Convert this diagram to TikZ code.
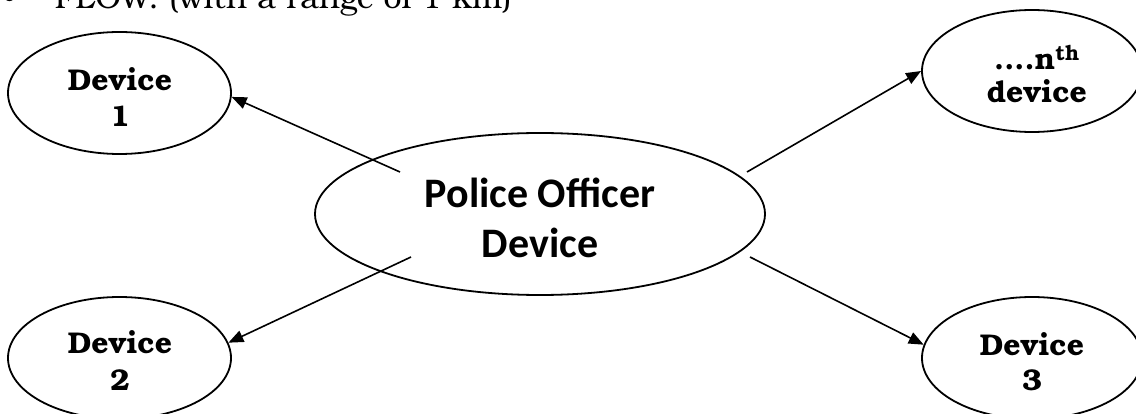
\documentclass[tikz,border=0pt]{standalone}
\usepackage{fontspec}
\newfontfamily\calib{Carlito}
\newfontfamily\bkfont{texgyrebonum}[Extension=.otf, UprightFont=*-regular, BoldFont=*-bold]
\usetikzlibrary{shapes.geometric,arrows.meta}
\tikzset{
  dev/.style={draw, ellipse, line width=1.8pt, inner sep=0pt, minimum width=223pt, minimum height=122pt},
  lbl/.style={anchor=base, inner sep=0pt, font=\bkfont\bfseries\fontsize{30}{32}\selectfont},
  plbl/.style={anchor=base, inner sep=0pt, font=\calib\bfseries\fontsize{42}{46}\selectfont},
  conn/.style={line width=1.6pt, -{Triangle[length=15pt,width=12pt]}}
}
\begin{document}
\begin{tikzpicture}[x=1pt,y=-1pt]
\clip (0,0) rectangle (1136,414);
\fill[white] (0,0) rectangle (1136,414);
% heading (cut at top)
\node[anchor=base west, inner sep=0pt, font=\bkfont\fontsize{32}{34}\selectfont] (head) at (2,8.5) {\textbullet\hspace{38pt}FLOW: (with a range of 1 km)};
% ellipses
\node[dev] (d1) at (119.5,93) {};
\node[dev] (d2) at (119.5,358) {};
\node[dev, minimum width=220pt] (dn) at (1032,71) {};
\node[dev, minimum width=220pt] (d3) at (1032,358) {};
\node[dev, minimum width=450pt, minimum height=162pt] (p) at (540,214) {};
% labels
\node[lbl] (d1a) at (120,91) {Device};
\node[lbl] (d1b) at (120,127) {1};
\node[lbl] (d2a) at (120,353) {Device};
\node[lbl] (d2b) at (120,390) {2};
\node[lbl] (dna) at (1037,70) {....n\textsuperscript{th}};
\node[lbl] (dnb) at (1037,103) {device};
\node[lbl] (d3a) at (1032,355) {Device};
\node[lbl] (d3b) at (1032,390) {3};
\node[plbl] (pa) at (540,208) {Police Officer};
\node[plbl] (pb) at (540,258) {Device};
% connectors
\coordinate (s1) at (400,172);
\coordinate (s2) at (411,257);
\coordinate (s3) at (747,172);
\coordinate (s4) at (750,257);
\draw[conn] (s1) -- (d1.-2);
\draw[conn] (s2) -- (d2.8);
\draw[conn] (s3) -- (dn.west);
\draw[conn] (s4) -- (d3.173);
\end{tikzpicture}
\end{document}
